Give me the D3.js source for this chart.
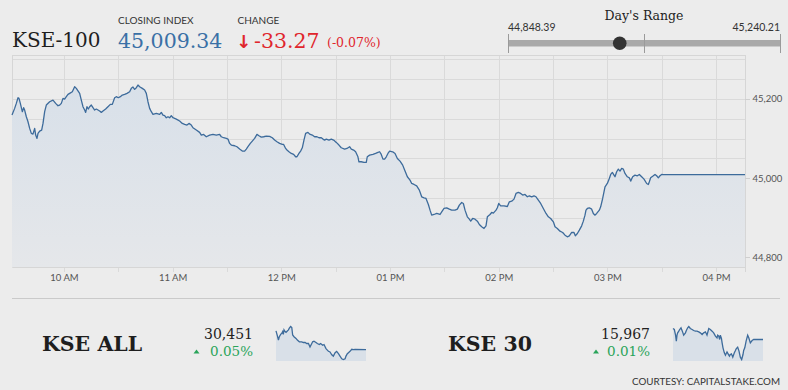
<!DOCTYPE html>
<html>
<head>
<meta charset="utf-8">
<script src="https://cdn.jsdelivr.net/npm/d3@7"></script>
<style>
    body { margin: 0; background: #ececec; }
    svg { display: block; }
</style>
</head>
<body>
<script>
// KSE-100 intraday
var mainTimes = [
    "09:31:18","09:32:46","09:33:41","09:34:37","09:35:10","09:35:54","09:37:00","09:37:44","09:38:17","09:39:13",
    "09:40:08","09:41:03","09:41:58","09:42:53","09:43:49","09:44:22","09:45:06","09:45:39","09:46:34","09:47:40",
    "09:48:25","09:49:20","09:50:15","09:52:05","09:53:56","09:55:24","09:56:41","09:57:37","09:58:32","09:59:27",
    "10:00:22","10:01:17","10:02:13","10:03:08","10:04:36","10:05:53","10:06:49","10:08:39","10:09:34","10:10:29",
    "10:11:25","10:11:58","10:12:42","10:13:26","10:14:10","10:15:05","10:16:01","10:16:56","10:17:51","10:18:46",
    "10:19:41","10:20:37","10:21:32","10:23:00","10:24:17","10:25:35","10:26:41","10:27:58","10:28:53","10:29:59",
    "10:31:06","10:32:12","10:33:29","10:34:47","10:36:15","10:37:10","10:38:05","10:39:01","10:39:56","10:40:51",
    "10:41:46","10:43:14","10:44:32","10:45:27","10:46:22","10:47:17","10:48:13","10:49:08","10:50:58","10:52:49",
    "10:53:44","10:54:39","10:55:34","10:56:29","10:57:25","10:58:20","10:59:15","11:00:10","11:02:01","11:03:51",
    "11:05:19","11:06:37","11:07:54","11:09:00","11:10:17","11:11:13","11:13:03","11:14:53","11:15:49","11:17:06",
    "11:18:34","11:20:25","11:22:15","11:24:05","11:25:56","11:26:51","11:28:08","11:29:37","11:30:32","11:31:27",
    "11:32:22","11:34:13","11:35:30","11:36:58","11:38:26","11:39:44","11:40:39","11:41:34","11:42:52","11:43:58",
    "11:45:15","11:46:32","11:47:38","11:48:56","11:50:13","11:51:41","11:53:32","11:55:00","11:56:17","11:57:35",
    "11:59:03","12:00:31","12:01:16","12:02:22","12:03:06","12:04:12","12:05:29","12:06:47","12:07:53","12:08:37",
    "12:09:43","12:10:38","12:11:34","12:12:29","12:13:24","12:14:41","12:15:37","12:17:05","12:18:22","12:19:40",
    "12:20:46","12:22:03","12:22:58","12:23:53","12:24:49","12:26:17","12:27:34","12:28:52","12:30:20","12:31:48",
    "12:33:05","12:34:56","12:36:13","12:37:41","12:38:37","12:39:54","12:41:00","12:42:17","12:42:50","12:44:08",
    "12:45:36","12:46:53","12:47:26","12:48:44","12:50:34","12:52:02","12:53:20","12:54:15","12:55:10","12:56:05",
    "12:57:01","12:57:56","12:58:51","12:59:46",
    "13:01:28","13:02:46","13:04:03","13:05:31","13:06:59","13:08:17","13:09:34","13:11:02","13:11:58","13:13:15",
    "13:14:43","13:16:11","13:17:29","13:18:46","13:19:52","13:21:10","13:22:05","13:23:00","13:24:17","13:25:46",
    "13:27:36","13:28:31","13:29:49","13:31:17","13:32:45","13:34:02","13:35:53","13:37:10","13:38:16","13:39:34",
    "13:40:29","13:41:24","13:42:41","13:43:47","13:44:32","13:45:38","13:46:55","13:48:13","13:49:19","13:50:36",
    "13:51:53","13:52:59","13:53:44","13:55:12","13:56:07","13:57:02","13:58:31","13:59:15","14:00:00","14:01:05",
    "14:02:56","14:04:46","14:05:52","14:07:10","14:08:27","14:09:33","14:10:50","14:12:08","14:13:14","14:14:31",
    "14:15:49","14:16:55","14:18:12","14:19:29","14:20:35","14:21:53","14:23:10","14:24:38","14:26:07","14:27:24",
    "14:28:41","14:30:10","14:31:05","14:32:22","14:33:50","14:35:19","14:36:36","14:37:53","14:38:59","14:40:17",
    "14:41:34","14:42:18","14:43:25","14:44:31","14:45:48","14:46:43","14:47:38","14:48:11","14:48:56","14:50:02",
    "14:51:19","14:52:14","14:53:10","14:54:05","14:55:33","14:56:17","14:57:23","14:58:41","14:59:58","15:01:04",
    "15:01:49","15:02:44","15:03:39","15:04:12","15:05:07","15:06:02","15:06:58","15:07:53","15:08:48","15:09:43",
    "15:11:01","15:12:07","15:12:51","15:13:57","15:15:14","15:16:32","15:17:38","15:18:55","15:20:13","15:21:41",
    "15:22:36","15:23:09","15:23:53","15:25:22","15:26:17","15:27:12","15:28:07","15:29:02","15:29:58","15:30:53",
    "16:15:58"
];
var mainValues = [
    45159.4,45176.3,45188.9,45203.2,45201.5,45188.9,45167.9,45178.0,45172.1,45155.2,
    45142.6,45125.8,45113.1,45111.4,45125.8,45108.9,45100.5,45113.1,45119.0,45121.5,
    45138.4,45167.9,45184.7,45193.1,45197.3,45188.9,45183.0,45184.7,45188.9,45201.5,
    45199.9,45205.8,45211.6,45214.2,45218.4,45231.0,45226.8,45214.2,45197.3,45180.5,
    45172.1,45166.2,45180.5,45174.6,45180.5,45184.7,45178.0,45172.1,45174.6,45172.1,
    45169.5,45166.2,45169.5,45174.6,45180.5,45186.4,45186.4,45203.2,45205.8,45203.2,
    45205.8,45210.0,45211.6,45214.2,45218.4,45226.8,45230.2,45224.3,45228.5,45235.2,
    45231.0,45226.8,45222.6,45214.2,45193.1,45176.3,45167.9,45161.1,45163.6,45161.1,
    45166.2,45159.4,45157.8,45152.7,45155.2,45152.7,45157.8,45152.7,45149.3,45144.3,
    45138.4,45135.9,45134.2,45138.4,45134.2,45127.4,45121.5,45115.7,45108.9,45110.6,
    45104.7,45108.9,45110.6,45108.9,45110.6,45104.7,45102.2,45100.5,45098.8,45087.9,
    45083.7,45082.0,45079.5,45073.6,45068.5,45068.5,45073.6,45079.5,45087.9,45093.8,
    45100.5,45110.6,45107.2,45103.9,45104.7,45106.4,45105.6,45102.2,45096.3,45092.1,
    45087.9,45085.3,45085.3,45075.2,45071.0,45066.8,45062.6,45060.1,45054.2,45054.2,
    45062.6,45068.5,45076.9,45096.3,45113.1,45115.7,45111.4,45108.9,45104.7,45104.7,
    45102.2,45102.2,45098.8,45096.3,45098.8,45096.3,45098.8,45096.3,45090.4,45083.7,
    45076.9,45073.6,45075.2,45079.5,45073.6,45071.0,45066.8,45054.2,45041.6,45041.6,
    45039.9,45039.9,45054.2,45058.4,45060.1,45062.6,45065.1,45066.8,45060.1,45048.3,
    45048.3,45054.2,45062.6,45068.5,
    45066.8,45062.6,45050.0,45043.2,45033.1,45018.0,45003.7,44995.3,44986.8,44984.3,
    44980.9,44970.0,44953.2,44950.6,44948.9,44933.8,44919.5,44906.8,44908.5,44911.1,
    44908.5,44915.3,44923.7,44925.4,44922.0,44919.5,44919.5,44922.0,44932.1,44938.8,
    44936.3,44919.5,44902.6,44896.7,44891.7,44898.4,44896.7,44891.7,44883.3,44877.4,
    44873.2,44879.9,44902.6,44908.5,44913.6,44911.9,44919.5,44925.4,44936.3,44930.4,
    44930.4,44928.7,44940.5,44942.2,44947.3,44961.6,44964.1,44961.6,44957.4,44959.0,
    44953.2,44955.7,44953.2,44955.7,44953.2,44944.7,44936.3,44923.7,44911.1,44902.6,
    44898.4,44890.0,44877.4,44873.2,44866.4,44863.1,44856.3,44852.1,44854.6,44863.1,
    44863.1,44854.6,44860.5,44869.0,44879.9,44891.7,44906.8,44919.5,44923.7,44925.4,
    44922.0,44911.1,44906.8,44911.1,44919.5,44927.9,44948.9,44978.4,44986.8,44999.5,
    45009.6,45014.6,45007.9,45003.7,45016.3,45023.0,45018.0,45024.7,45023.0,45012.1,
    45003.7,45001.1,44992.7,45003.7,45007.9,45006.2,45009.6,45003.7,44997.8,44986.8,
    44984.3,44991.0,45001.1,45006.2,45009.6,45006.2,45001.1,45006.2,45009.6,45009.34,
    45009.34
];

// KSE ALL sparkline
var allTimes = ["09:31","09:37","09:42","09:46","09:52","09:57","10:01","10:04","10:07","10:12",
    "10:16","10:22","10:27","10:31","10:37","10:42","10:46","10:52","11:01","11:07",
    "11:16","11:27","11:34","11:42","11:49","11:57","12:04","12:12","12:16","12:22",
    "12:31","12:37","12:46","12:52","13:01","13:07","13:16","13:27","13:34","13:42",
    "13:49","13:57","14:04","14:12","14:19","14:27","14:34","14:42","14:46","14:52",
    "14:57","15:04","15:12","15:19","15:27","16:16"];
var allValues = [30478.5,30471.5,30465,30470,30473.5,30475,30477.5,30473.5,30480,30477.5,
    30476.5,30478.5,30480,30482.5,30485,30483.5,30472.5,30470,30467.5,30465,
    30462.5,30462.5,30461.5,30461.5,30460,30460,30455,30460,30462.5,30463.5,
    30461.5,30460,30458.5,30460,30457.5,30458.5,30452.5,30448.5,30447.5,30443.5,
    30441.5,30446.5,30448.5,30445,30441.5,30437.5,30436.5,30437.5,30441.5,30445,
    30446.5,30448.5,30451.5,30451,30451.5,30451];

// KSE 30 sparkline
var k30Times = ["09:31","09:37","09:42","09:46","09:49","09:52","09:57","10:01","10:07","10:13",
    "10:19","10:27","10:31","10:37","10:42","10:49","10:57","11:04","11:12","11:19",
    "11:27","11:34","11:42","11:49","11:57","12:04","12:12","12:19","12:27","12:34",
    "12:42","12:49","12:52","12:57","13:01","13:04","13:09","13:12","13:16","13:22",
    "13:27","13:34","13:39","13:45","13:49","13:54","14:00","14:07","14:12","14:16",
    "14:22","14:28","14:34","14:40","14:46","14:49","14:54","15:00","15:07","15:12",
    "15:19","15:27","15:34","16:16"];
var k30Values = [15976.9,15976,15971.5,15965.5,15970.9,15973,15974.5,15976,15977.5,15974.5,
    15970.9,15973,15975.1,15977.5,15978.7,15976.9,15976,15975.1,15974.5,15974.5,
    15973.9,15973,15971.5,15973,15973.9,15970.9,15976.9,15976,15974.5,15973,
    15970,15968.5,15970.9,15970,15967,15970.9,15967.9,15964,15959.5,15955,
    15952.9,15955.9,15954.1,15952,15953.5,15954.1,15951.1,15955,15957.1,15958.9,
    15960.1,15956.5,15951.1,15949,15953.5,15957.1,15959.5,15965.5,15970.9,15968.5,
    15964,15966.1,15967,15967];

var xTickTimes = ["10:00","11:00","12:00","13:00","14:00","15:00","16:00"];
var xTickLabels = ["10 AM","11 AM","12 PM","01 PM","02 PM","03 PM","04 PM"];
var yTickValues = [44800, 45000, 45200];
var yDomain = [44776, 45311];

var dayLow = 44848.39, dayHigh = 45240.21;
var closeIndex = 45009.34, change = -33.27, changePct = -0.07;

var summaries = [
    {name: "KSE ALL", value: 30451, pct: 0.05, times: allTimes, values: allValues},
    {name: "KSE 30", value: 15967, pct: 0.01, times: k30Times, values: k30Values}
];

var SANS = "Lato, 'Open Sans', sans-serif";
var SERIF = "'DejaVu Serif', serif";
var LINE = "#3d6b9b";

var width = 788, height = 390;
var plotL = 12, plotR = 745, plotT = 55, plotB = 267;

var parseT = d3.timeParse("%H:%M:%S");
var parseHM = d3.timeParse("%H:%M");

var svg = d3.select("body").append("svg")
    .attr("width", width)
    .attr("height", height);

svg.append("rect").attr("width", width).attr("height", height).attr("fill", "#ececec");

var defs = svg.append("defs");
var grad = defs.append("linearGradient")
    .attr("id", "areaGrad")
    .attr("gradientUnits", "userSpaceOnUse")
    .attr("x1", 0).attr("x2", 0).attr("y1", plotT).attr("y2", plotB);
grad.append("stop").attr("offset", "0").attr("stop-color", "#d6dfe9");
grad.append("stop").attr("offset", "1").attr("stop-color", "#e5e7ea");

var data = mainTimes.map(function(t, i) { return {t: parseT(t), v: mainValues[i]}; });

var x = d3.scaleTime().domain(d3.extent(data, function(d) { return d.t; })).range([plotL, plotR]);
var y = d3.scaleLinear().domain(yDomain).range([plotB, plotT]);

// grid
var grid = svg.append("g");
grid.selectAll(".hg")
    .data(d3.range(44800, 45301, 50))
    .enter().append("line")
    .attr("x1", plotL).attr("x2", plotR)
    .attr("y1", function(d) { return Math.round(y(d)) + 0.5; })
    .attr("y2", function(d) { return Math.round(y(d)) + 0.5; })
    .attr("stroke", "#dadada");

grid.selectAll(".vg")
    .data(x.ticks(d3.timeMinute.every(30)))
    .enter().append("line")
    .attr("x1", function(d) { return Math.round(x(d)) + 0.5; })
    .attr("x2", function(d) { return Math.round(x(d)) + 0.5; })
    .attr("y1", plotT).attr("y2", plotB + 5)
    .attr("stroke", "#dadada");

// frame
grid.append("path")
    .attr("d", "M" + (plotL + 0.5) + "," + plotT + "V" + (plotB + 0.5) + "H" + (plotR + 0.5) +
        "M" + (plotL + 0.5) + "," + (plotT + 0.5) + "H" + (plotR + 0.5) +
        "M" + (plotR + 0.5) + "," + plotT + "V" + (plotB + 5))
    .attr("fill", "none")
    .attr("stroke", "#d6d6d6");

// area + line
var area = d3.area()
    .x(function(d) { return x(d.t); })
    .y0(plotB)
    .y1(function(d) { return y(d.v); });
var line = d3.line()
    .x(function(d) { return x(d.t); })
    .y(function(d) { return y(d.v); });

svg.append("path").datum(data).attr("d", area).attr("fill", "url(#areaGrad)");
svg.append("path").datum(data).attr("d", line)
    .attr("fill", "none")
    .attr("stroke", LINE)
    .attr("stroke-width", 1.3)
    .attr("stroke-linejoin", "round");

// x axis labels
svg.selectAll(".xl")
    .data(xTickTimes)
    .enter().append("text")
    .attr("x", function(d) { return x(parseHM(d)) + 0.5; })
    .attr("y", 280.5)
    .attr("text-anchor", "middle")
    .style("font-family", SANS)
    .style("font-size", "9.5px")
    .attr("fill", "#555")
    .text(function(d, i) { return xTickLabels[i]; });

// y axis
var yAxis = svg.append("g");
yAxis.selectAll(".yt")
    .data(yTickValues)
    .enter().append("line")
    .attr("x1", plotR).attr("x2", plotR + 5)
    .attr("y1", function(d) { return Math.round(y(d)) + 0.5; })
    .attr("y2", function(d) { return Math.round(y(d)) + 0.5; })
    .attr("stroke", "#cfcfcf");
yAxis.selectAll(".yl")
    .data(yTickValues)
    .enter().append("text")
    .attr("x", 752.5)
    .attr("y", function(d) { return y(d) + 3.5; })
    .style("font-family", SANS)
    .style("font-size", "9.5px")
    .attr("fill", "#555")
    .text(d3.format(","));

// header
var head = svg.append("g");
head.append("text").attr("x", 12).attr("y", 47)
    .style("font-family", SERIF).style("font-size", "20px").attr("fill", "#1e1e1e")
    .text("KSE-100");
head.append("text").attr("x", 118).attr("y", 24)
    .style("font-family", SANS).style("font-size", "10px").attr("fill", "#333")
    .text("CLOSING INDEX");
head.append("text").attr("x", 118).attr("y", 48)
    .style("font-family", SERIF).style("font-size", "20.5px").attr("fill", "#3a70a6")
    .text(d3.format(",.2f")(closeIndex));
head.append("text").attr("x", 237.5).attr("y", 24)
    .style("font-family", SANS).style("font-size", "10px").attr("fill", "#333")
    .text("CHANGE");
head.append("text").attr("x", 236).attr("y", 47.5)
    .style("font-family", "'DejaVu Sans', sans-serif").style("font-size", "18px")
    .style("font-weight", "bold").attr("fill", "#e0262c")
    .text("\u2193");
head.append("text").attr("x", 254).attr("y", 48)
    .style("font-family", SERIF).style("font-size", "20.5px").attr("fill", "#e0262c")
    .text(d3.format(".2f")(change).replace("\u2212", "-"));
head.append("text").attr("x", 327).attr("y", 47)
    .style("font-family", SERIF).style("font-size", "12.5px").attr("fill", "#e0262c")
    .text("(" + d3.format(".2f")(changePct).replace("\u2212", "-") + "%)");

// day's range
var rx = d3.scaleLinear().domain([dayLow, dayHigh]).range([508, 780]);
var rg = svg.append("g");
rg.append("text").attr("x", 644).attr("y", 20)
    .attr("text-anchor", "middle")
    .style("font-family", SERIF).style("font-size", "12.5px").attr("fill", "#222")
    .text("Day's Range");
rg.append("text").attr("x", rx(dayLow)).attr("y", 30.5)
    .style("font-family", SANS).style("font-size", "10.5px").attr("fill", "#333")
    .text(d3.format(",.2f")(dayLow));
rg.append("text").attr("x", rx(dayHigh)).attr("y", 30.5)
    .attr("text-anchor", "end")
    .style("font-family", SANS).style("font-size", "10.5px").attr("fill", "#333")
    .text(d3.format(",.2f")(dayHigh));
rg.append("rect")
    .attr("x", rx(dayLow)).attr("y", 40)
    .attr("width", rx(dayHigh) - rx(dayLow)).attr("height", 6.5)
    .attr("fill", "#a9a9a9");
rg.selectAll(".rt")
    .data([dayLow, (dayLow + dayHigh) / 2, dayHigh])
    .enter().append("line")
    .attr("x1", function(d) { return Math.round(rx(d)) + 0.5; })
    .attr("x2", function(d) { return Math.round(rx(d)) + 0.5; })
    .attr("y1", 34).attr("y2", 53)
    .attr("stroke", "#9a9a9a");
rg.append("circle")
    .attr("cx", rx(closeIndex)).attr("cy", 43.3).attr("r", 6.8)
    .attr("fill", "#333");

// separator
svg.append("line")
    .attr("x1", 12).attr("x2", 780).attr("y1", 298.5).attr("y2", 298.5)
    .attr("stroke", "#cacaca");

// bottom summaries
var panels = [
    {nameX: 42, valueX: 253, triX: 196.5, sx: [276, 366]},
    {nameX: 448, valueX: 650, triX: 596, sx: [673, 763]}
];
summaries.forEach(function(s, i) {
    var p = panels[i];
    var g = svg.append("g");
    g.append("text").attr("x", p.nameX).attr("y", 351)
        .style("font-family", SERIF).style("font-size", "20.5px").style("font-weight", "bold")
        .attr("fill", "#1e1e1e")
        .text(s.name);
    g.append("text").attr("x", p.valueX).attr("y", 339)
        .attr("text-anchor", "end")
        .style("font-family", SERIF).style("font-size", "14px").attr("fill", "#222")
        .text(d3.format(",")(s.value));
    g.append("text").attr("x", p.valueX).attr("y", 356)
        .attr("text-anchor", "end")
        .style("font-family", SERIF).style("font-size", "13.5px").attr("fill", "#2aa45a")
        .text(d3.format(".2f")(s.pct) + "%");
    g.append("path")
        .attr("d", "M" + (p.triX - 3) + ",353.5L" + p.triX + ",349.5L" + (p.triX + 3) + ",353.5Z")
        .attr("fill", "#2aa45a");

    var sd = s.times.map(function(t, j) { return {t: parseHM(t), v: s.values[j]}; });
    var sxs = d3.scaleTime().domain(d3.extent(sd, function(d) { return d.t; })).range(p.sx);
    var sys = d3.scaleLinear().domain(d3.extent(sd, function(d) { return d.v; })).range([359.5, 326.5]);
    g.append("path").datum(sd)
        .attr("d", d3.area()
            .x(function(d) { return sxs(d.t); })
            .y0(361)
            .y1(function(d) { return sys(d.v); }))
        .attr("fill", "#d9e0e8");
    g.append("path").datum(sd)
        .attr("d", d3.line()
            .x(function(d) { return sxs(d.t); })
            .y(function(d) { return sys(d.v); }))
        .attr("fill", "none")
        .attr("stroke", LINE)
        .attr("stroke-width", 1.3);
});

svg.append("text").attr("x", 780).attr("y", 385)
    .attr("text-anchor", "end")
    .style("font-family", SANS).style("font-size", "9.8px").attr("fill", "#333")
    .text("COURTESY: CAPITALSTAKE.COM");
</script>
</body>
</html>
